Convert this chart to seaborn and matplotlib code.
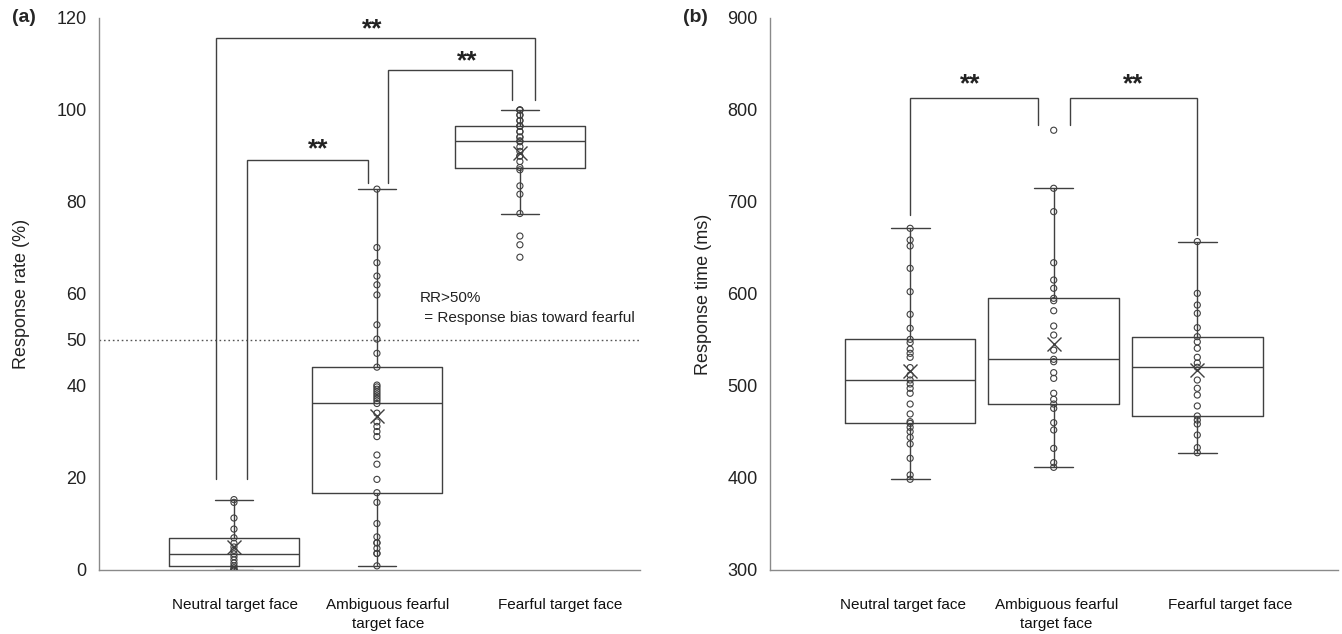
import numpy as np
import pandas as pd
import matplotlib
matplotlib.use("Agg")
import matplotlib.pyplot as plt
import seaborn as sns

# ---------------- data ----------------
group_keys = ["Neutral", "Ambiguous", "Fearful"]
tick_labels = ["Neutral target face", "Ambiguous fearful\ntarget face", "Fearful target face"]

# (a) response rate (%)
rr_neutral = [0, 0, 0, 0.5, 0.9, 1.5, 2.2, 2.9, 3.5, 4.3, 5.0, 5.8, 7.0, 8.9, 11.3, 14.7, 15.3]
rr_ambiguous = [0.9, 3.6, 3.6, 4.7, 5.9, 5.9, 7.2, 10.1, 14.7, 16.8,
                19.7, 23.0, 25.0, 29.0, 30.1, 31.2, 32.2, 34.1, 36.2,
                36.8, 37.3, 37.8, 38.3, 38.8, 39.3, 39.8, 40.2, 44.1,
                47.1, 50.2, 53.3, 59.8, 62.0, 63.9, 66.8, 70.1, 82.8]
rr_fearful = [68.0, 70.7, 72.6, 77.5, 81.7, 83.5, 87.0, 87.5,
              88.8, 90.0, 90.0, 91.0, 92.0, 93.1, 93.3,
              94.1, 94.1, 95.3, 95.3, 96.5, 96.5, 96.5,
              97.7, 97.7, 98.9, 98.9, 100.0, 100.0, 100.0]

# (b) response time (ms)
rt_neutral = [398.6, 403.3, 421.4, 437.0, 444.2, 450.4, 455.1, 459.4,
              461.2, 469.6, 480.4, 492.1, 497.5, 502.2, 506.5,
              512.0, 520.0, 531.2, 535.5, 540.0, 547.1, 550.7,
              562.7, 577.9, 602.5, 627.9, 652.2, 658.7, 671.4]
rt_ambiguous = [411.6, 416.7, 432.2, 452.2, 460.1, 475.7, 480.4,
                485.5, 492.1, 508.3, 514.5, 526.4, 529.0,
                539.0, 555.4, 565.2, 581.8, 592.7, 595.3,
                606.2, 615.2, 634.0, 689.5, 714.9, 778.0]
rt_fearful = [427.5, 433.0, 446.7, 458.7, 463.0, 467.4,
              478.3, 490.2, 497.5, 506.5, 520.3,
              525.0, 531.2, 541.0, 548.0, 553.6,
              563.4, 579.0, 588.0, 600.7, 657.0]

# significance brackets: (x_left, x_right, y_left_end, y_top, y_right_end)
brackets_a = [(-0.126, 2.105, 19.8, 115.7, 102.2),
              (1.077, 1.944, 84.2, 108.7, 102.2),
              (0.089, 0.935, 19.8, 89.1, 84.2)]
stars_a = [(0.97, 117.6), (1.63, 110.6), (0.59, 91.4)]
brackets_b = [(0.0, 0.89, 685.9, 813.0, 783.7),
              (1.115, 2.0, 783.7, 813.0, 664.1)]
stars_b = [(0.418, 828.0), (1.554, 828.0)]

LINE = "#404040"
SPINE = "#8a8a8a"

sns.set_theme(style="white")
plt.rcParams['font.family'] = ['Liberation Sans', 'DejaVu Sans']

fig = plt.figure(figsize=(13.42, 6.34), dpi=100)
axA = fig.add_axes([99 / 1342, 64 / 634, 541 / 1342, 552 / 634])
axB = fig.add_axes([770 / 1342, 64 / 634, 568 / 1342, 552 / 634])


def long_df(series):
    rows = []
    for k, vals in zip(group_keys, series):
        for v in vals:
            rows.append((k, v))
    return pd.DataFrame(rows, columns=["group", "value"])


def draw(ax, df):
    sns.boxplot(data=df, x="group", y="value", order=group_keys, ax=ax,
                fill=False, color=LINE, linewidth=1.0, width=0.91,
                showfliers=False, showmeans=True,
                meanprops=dict(marker="x", markersize=10, markeredgecolor=LINE,
                               markerfacecolor=LINE, markeredgewidth=1.0),
                capwidths=0.27)
    n0 = len(ax.collections)
    sns.stripplot(data=df, x="group", y="value", order=group_keys, ax=ax,
                  jitter=False, color=LINE, size=4.4, linewidth=0.8,
                  edgecolor=LINE, zorder=4)
    for c in ax.collections[n0:]:
        c.set_facecolor("none")
        c.set_edgecolor(LINE)
    for s in ["top", "right"]:
        ax.spines[s].set_visible(False)
    for s in ["left", "bottom"]:
        ax.spines[s].set_color(SPINE)
        ax.spines[s].set_linewidth(1.0)
    ax.tick_params(axis="both", length=0)
    ax.tick_params(axis="y", labelsize=13, pad=9, colors="#222222")
    ax.tick_params(axis="x", labelsize=11, pad=20, colors="#111111")
    ax.set_xlabel("")


def draw_brackets(ax, brackets, stars):
    for (x1, x2, yl, yt, yr) in brackets:
        ax.plot([x1, x1, x2, x2], [yl, yt, yt, yr], color=LINE, lw=1.0,
                solid_joinstyle="miter", clip_on=False)
    for (sx, sy) in stars:
        ax.text(sx, sy, "**", ha="center", va="center", fontsize=19,
                fontweight="bold", color="#222222")


def fix_xlabels(ax):
    for lab in ax.get_xticklabels():
        lab.set_linespacing(1.45)


# ---- panel (a)
dfA = long_df([rr_neutral, rr_ambiguous, rr_fearful])
draw(axA, dfA)
axA.set_xlim(-0.944, 2.84)
axA.set_ylim(0, 120)
axA.set_yticks([0, 20, 40, 50, 60, 80, 100, 120])
axA.set_xticks([0.007, 1.077, 2.28], labels=tick_labels)
fix_xlabels(axA)
axA.axhline(50, ls=(0, (1.2, 2.0)), color="#555555", lw=1.0, zorder=1)
axA.set_ylabel("Response rate (%)", fontsize=13, labelpad=19, color="#222222")
axA.text(1.30, 59.2, "RR>50%", fontsize=11, ha="left", va="center", color="#222222")
axA.text(1.30, 54.8, " = Response bias toward fearful", fontsize=11, ha="left",
         va="center", color="#222222")
draw_brackets(axA, brackets_a, stars_a)

# ---- panel (b)
dfB = long_df([rt_neutral, rt_ambiguous, rt_fearful])
draw(axB, dfB)
axB.set_xlim(-0.976, 2.98)
axB.set_ylim(300, 900)
axB.set_yticks(list(range(300, 901, 100)))
axB.set_xticks([-0.05, 1.017, 2.23], labels=tick_labels)
fix_xlabels(axB)
axB.set_ylabel("Response time (ms)", fontsize=13, labelpad=11, color="#222222")
draw_brackets(axB, brackets_b, stars_b)

fig.text(12 / 1342, 1 - 18 / 634, "(a)", fontsize=14, fontweight="bold", va="center", ha="left")
fig.text(683 / 1342, 1 - 18 / 634, "(b)", fontsize=14, fontweight="bold", va="center", ha="left")

fig.savefig("out.png", dpi=100)
